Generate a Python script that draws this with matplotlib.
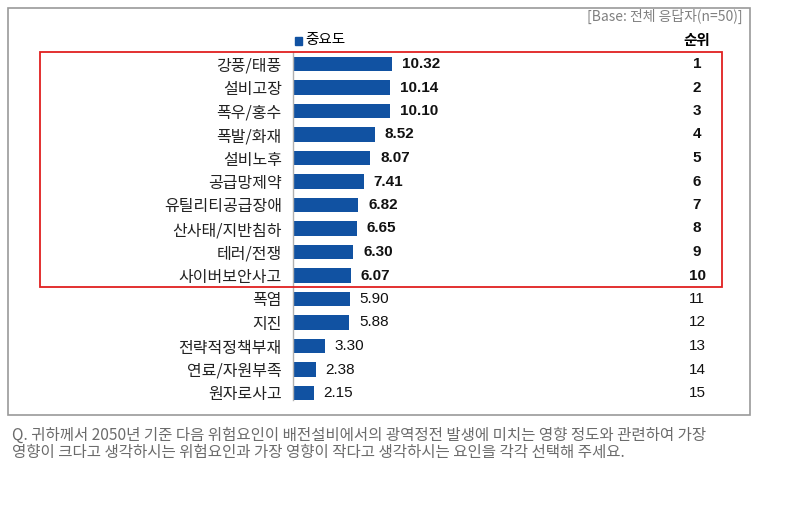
import matplotlib
matplotlib.use("Agg")
import matplotlib.pyplot as plt
import matplotlib.patches as mpatches
import matplotlib.transforms as mtransforms

plt.rcParams['font.family'] = ['Noto Sans CJK KR', 'DejaVu Sans']

categories = ["강풍/태풍", "설비고장", "폭우/홍수", "폭발/화재", "설비노후", "공급망제약",
              "유틸리티공급장애", "산사태/지반침하", "테러/전쟁", "사이버보안사고",
              "폭염", "지진", "전략적정책부재", "연료/자원부족", "원자로사고"]
values = [10.32, 10.14, 10.10, 8.52, 8.07, 7.41, 6.82, 6.65, 6.30, 6.07,
          5.90, 5.88, 3.30, 2.38, 2.15]
ranks = list(range(1, 16))
series_name = "중요도"
rank_header = "순위"
base_note = "[Base: 전체 응답자(n=50)]"
question_lines = ["Q. 귀하께서 2050년 기준 다음 위험요인이 배전설비에서의 광역정전 발생에 미치는 영향 정도와 관련하여 가장",
                  "영향이 크다고 생각하시는 위험요인과 가장 영향이 작다고 생각하시는 요인을 각각 선택해 주세요."]
top_n = 10

W, H = 806, 517
fig = plt.figure(figsize=(W / 100, H / 100), dpi=100)

def fx(px):
    return px / W

def fy(py):
    return 1 - py / H

bar_color = '#1152A2'

# axes: x 293..750 px, y 52..400 px
ax_left, ax_right, ax_top, ax_bot = 293, 750, 52, 400
ax = fig.add_axes([fx(ax_left), fy(ax_bot), fx(ax_right - ax_left), (ax_bot - ax_top) / H])
ax.set_xlim(0, (ax_right - ax_left) / 9.6)
row0, rowstep = 64, 23.5
ax.set_ylim(14 + (ax_bot - (row0 + 14 * rowstep)) / rowstep, -(row0 - ax_top) / rowstep)

ypos = list(range(len(categories)))
ax.barh(ypos, values, height=0.6, color=bar_color)
ax.set_yticks(ypos)
ax.set_yticklabels(categories, fontsize=11.5, color='#222222')
ax.tick_params(axis='y', length=0, pad=8)
ax.set_xticks([])
for s in ['top', 'right', 'bottom']:
    ax.spines[s].set_visible(False)
ax.spines['left'].set_color('#b0b0b0')
ax.spines['left'].set_linewidth(1)

for i, v in enumerate(values):
    ax.text(v + 1.0, i, f"{v:.2f}", va='center', ha='left', fontsize=11,
            family=['Liberation Sans', 'DejaVu Sans'],
            fontweight='bold' if i < top_n else 'normal', color='#111111')

trans = mtransforms.blended_transform_factory(fig.transFigure, ax.transData)
for i, r in enumerate(ranks):
    ax.text(fx(697), i, str(r), transform=trans, va='center', ha='center', fontsize=11,
            family=['Liberation Sans', 'DejaVu Sans'],
            fontweight='bold' if i < top_n else 'normal', color='#111111')

# header row
fig.text(fx(697), fy(40), rank_header, ha='center', va='center', fontsize=10.5, fontweight='bold')
fig.patches.append(mpatches.Rectangle((fx(295), fy(45)), fx(7), 8 / H, transform=fig.transFigure,
                                      color=bar_color))
fig.text(fx(305), fy(40), series_name, ha='left', va='center', fontsize=10.5)

fig.text(fx(743), fy(16), base_note, ha='right', va='center', fontsize=10, color='#808080')

# outer grey box
fig.patches.append(mpatches.Rectangle((fx(8), fy(415)), fx(750 - 8), (415 - 8) / H,
                                      transform=fig.transFigure, fill=False,
                                      edgecolor='#999999', linewidth=1.2))
# red highlight box
fig.patches.append(mpatches.Rectangle((fx(40), fy(287)), fx(722 - 40), (287 - 52) / H,
                                      transform=fig.transFigure, fill=False,
                                      edgecolor='#e02020', linewidth=1.3))

for k, line in enumerate(question_lines):
    fig.text(fx(12), fy(435 + 17 * k), line, ha='left', va='center', fontsize=11.2,
             color='#6b6b6b')

fig.savefig("out.png", dpi=100, facecolor='white')
